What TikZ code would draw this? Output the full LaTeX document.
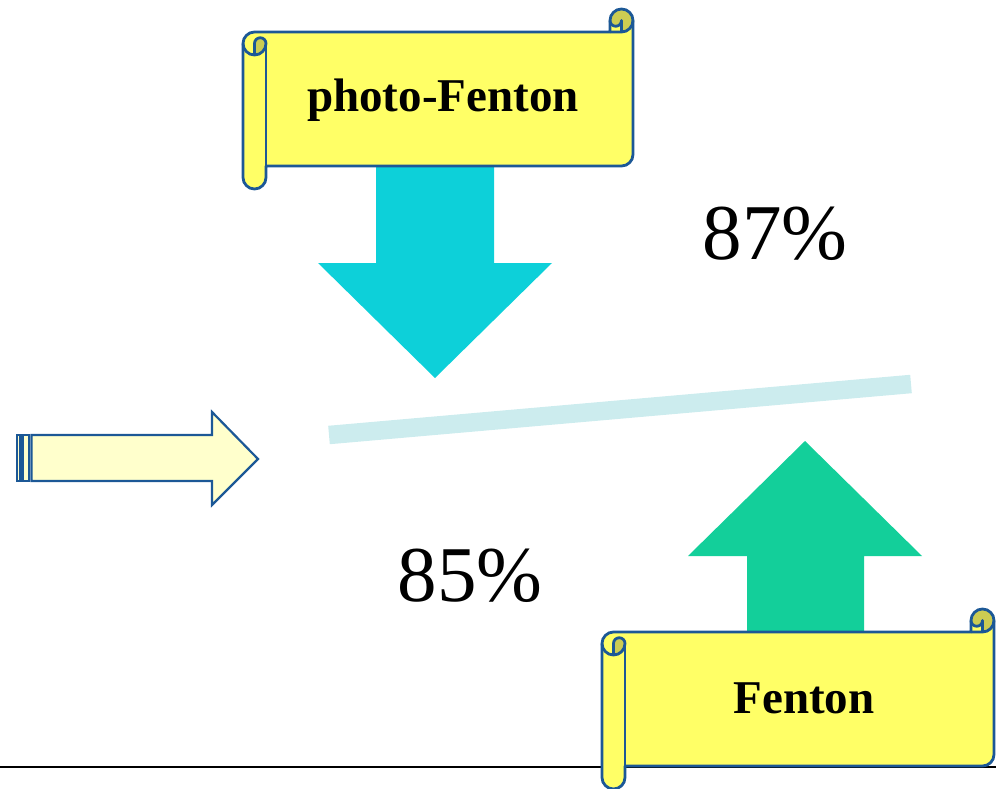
\documentclass[tikz,border=0pt]{standalone}
\usepackage{fontspec}
\setmainfont{Liberation Serif}
\definecolor{scrollfill}{HTML}{FFFF66}
\definecolor{scrolldark}{HTML}{CCCC52}
\definecolor{scrollline}{HTML}{1C5896}
\definecolor{cyanarrow}{HTML}{0DD0D9}
\definecolor{greenarrow}{HTML}{13CF9A}
\definecolor{paleline}{HTML}{CCECEE}
\definecolor{leftfill}{HTML}{FFFFCC}
\definecolor{baseline}{HTML}{3A3F4A}
\tikzset{
  scrollstroke/.style={draw=scrollline, line width=2.8pt, line join=round},
  leftarrowstyle/.style={draw=scrollline, fill=leftfill, line width=2.2pt},
  labeltext/.style={font=\bfseries\fontsize{47}{52}\selectfont, inner sep=0pt},
  pcttext/.style={font=\fontsize{79}{82}\selectfont, inner sep=0pt},
}
% #1 = left x, #2 = top y, #3 = width (height 180, curl size 23)
\newcommand\drawscroll[3]{%
\begin{scope}[shift={(#1,#2)}]
 \def\W{#3}
 \fill[scrollfill] (\W,11.5) arc(0:-90:11.5pt) -- (\W-11.5,11.5) arc(0:-180:5.75pt)
   -- (\W-23,23) -- (11.5,23) arc(90:180:11.5pt) -- (0,168.5) arc(180:360:11.5pt)
   -- (23,157) -- (\W-11.5,157) arc(-90:0:11.5pt) -- cycle;
 \fill[scrolldark] (11.5,46) arc(-90:0:11.5pt) arc(0:180:5.75pt) -- cycle;
 \fill[scrolldark] (\W-11.5,23) arc(-90:180:11.5pt) arc(180:360:5.75pt) -- cycle;
 \draw[scrollstroke] (0,34.5) arc(180:90:11.5pt) -- (\W-23,23) -- (\W-23,11.5)
   arc(180:0:11.5pt) -- (\W,145.5) arc(0:-90:11.5pt) -- (23,157) -- (23,168.5)
   arc(0:-180:11.5pt) -- cycle;
 \draw[scrollstroke] (\W-23,23) -- (\W-11.5,23) arc(-90:0:11.5pt);
 \draw[scrollstroke] (\W-11.5,23) -- (\W-11.5,11.5) arc(0:-180:5.75pt);
 \draw[scrollstroke] (11.5,46) -- (11.5,34.5) arc(180:0:5.75pt) arc(0:-180:11.5pt);
 \draw[scrollstroke] (23,34.5) -- (23,157);
\end{scope}}
\begin{document}
\begin{tikzpicture}[x=1pt,y=-1pt]
\useasboundingbox (0,0) rectangle (996,789);
% bottom rule
\coordinate (ruleL) at (0,767);
\coordinate (ruleR) at (996,767);
\draw[baseline, line width=1.8pt] (ruleL) -- (ruleR);
% pale slanted bar
\coordinate (barL) at (329,435);
\coordinate (barR) at (911,384);
\draw[paleline, line width=18.5pt] (barL) -- (barR);
% cyan down arrow
\fill[cyanarrow] (376,160) -- (494,160) -- (494,263) -- (552,263) -- (435,378)
  -- (318,263) -- (376,263) -- cycle;
% green up arrow
\fill[greenarrow] (747,640) -- (747,556) -- (688,556) -- (805,441) -- (922,556)
  -- (864,556) -- (864,640) -- cycle;
% striped left arrow
\draw[leftarrowstyle] (17,435) rectangle (20.5,481);
\draw[leftarrowstyle] (23,435) rectangle (29,481);
\draw[leftarrowstyle] (31.5,435) -- (212,435) -- (212,412) -- (258,459) -- (212,505)
  -- (212,481) -- (31.5,481) -- cycle;
% scrolls
\drawscroll{243}{9}{390}
\drawscroll{602}{609}{392}
\node[labeltext] (pf) at (443,100) {photo-Fenton};
\node[labeltext] (fen) at (804,698) {Fenton};
\node[pcttext] (p87) at (775,234) {87\%};
\node[pcttext] (p85) at (470,576) {85\%};
\end{tikzpicture}
\end{document}
